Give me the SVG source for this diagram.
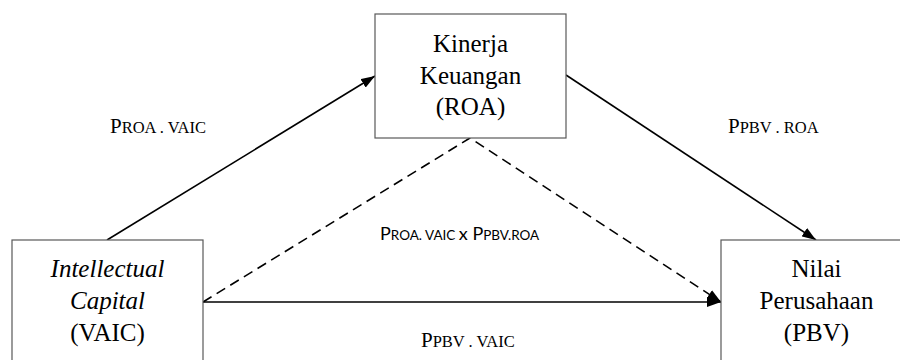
<svg xmlns="http://www.w3.org/2000/svg" width="900" height="360" viewBox="0 0 900 360">
<defs>
<marker id="ah" viewBox="0 0 14 10" refX="14" refY="5" markerWidth="14" markerHeight="10" markerUnits="userSpaceOnUse" orient="auto">
<path d="M0,0 L14,5 L0,10 z" fill="#000"/>
</marker>
<style>
.box{fill:#fff;stroke:#595959;stroke-width:1.2}
.ln{stroke:#000;stroke-width:1.6;fill:none}
.dash{stroke-dasharray:10 6}
</style>
</defs>
<rect width="900" height="360" fill="#fff"/>
<g id="connectors">
<line class="ln" x1="107" y1="240" x2="375" y2="76" marker-end="url(#ah)"/>
<line class="ln" x1="566" y1="75" x2="816" y2="240" marker-end="url(#ah)"/>
<line class="ln" x1="203" y1="302" x2="721" y2="302" marker-end="url(#ah)"/>
<polyline class="ln dash" points="203,302 470,138 721,302" marker-end="url(#ah)"/>
</g>
<g id="node-roa">
<rect class="box" x="375" y="14" width="191" height="124"/>
<text font-family="'Liberation Serif', serif" font-size="25" text-anchor="middle" x="470.5" y="51.5">Kinerja</text>
<text font-family="'Liberation Serif', serif" font-size="25" text-anchor="middle" x="470.5" y="83.5">Keuangan</text>
<text font-family="'Liberation Serif', serif" font-size="25" text-anchor="middle" x="470.5" y="115">(ROA)</text>
</g>
<g id="node-vaic">
<rect class="box" x="12" y="240" width="191" height="130"/>
<text font-family="'Liberation Serif', serif" font-size="25" text-anchor="middle" x="107.5" y="277" font-style="italic">Intellectual</text>
<text font-family="'Liberation Serif', serif" font-size="25" text-anchor="middle" x="107.5" y="309" font-style="italic">Capital</text>
<text font-family="'Liberation Serif', serif" font-size="25" text-anchor="middle" x="107.5" y="341">(VAIC)</text>
</g>
<g id="node-pbv">
<rect class="box" x="721" y="240" width="191" height="130"/>
<text font-family="'Liberation Serif', serif" font-size="25" text-anchor="middle" x="816.5" y="277">Nilai</text>
<text font-family="'Liberation Serif', serif" font-size="25" text-anchor="middle" x="816.5" y="309">Perusahaan</text>
<text font-family="'Liberation Serif', serif" font-size="25" text-anchor="middle" x="816.5" y="341">(PBV)</text>
</g>
<g id="labels">
<text font-family="'Liberation Serif', serif" font-size="21" x="110" y="133">P<tspan font-size="16.5">ROA . VAIC</tspan></text>
<text font-family="'Liberation Serif', serif" font-size="21" x="728" y="133">P<tspan font-size="16.5">PBV . ROA</tspan></text>
<text font-family="'Liberation Serif', serif" font-size="21" x="421" y="347">P<tspan font-size="16.5">PBV . VAIC</tspan></text>
<text font-family="Lato, sans-serif" font-size="18" x="380" y="239.5">P<tspan font-size="13.5">ROA. VAIC </tspan>x P<tspan font-size="13.5">PBV.ROA</tspan></text>
</g>
</svg>
